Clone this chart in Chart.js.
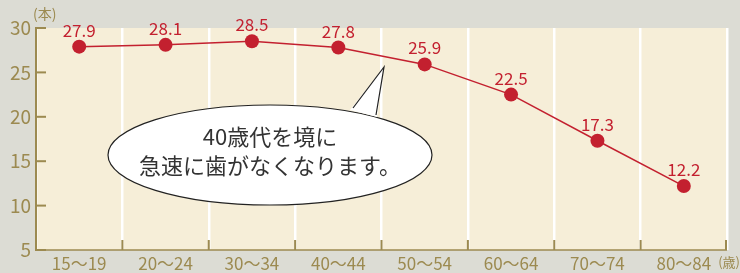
<!DOCTYPE html>
<html>
<head>
<meta charset="utf-8">
<script src="https://cdn.jsdelivr.net/npm/chart.js@4"></script>
<style>
	html, body { margin: 0; padding: 0; background: #dcdcd4; }
	#wrap { width: 740px; height: 273px; }
</style>
</head>
<body>
<div id="wrap"><canvas id="teeth" width="740" height="273"></canvas></div>
<script>
//age groups on the x axis
const ageGroups = ['15〜19', '20〜24', '30〜34', '40〜44', '50〜54', '60〜64', '70〜74', '80〜84'];
//average number of remaining teeth per group
const teethCount = [27.9, 28.1, 28.5, 27.8, 25.9, 22.5, 17.3, 12.2];
//y axis ticks
const yTicks = [5, 10, 15, 20, 25, 30];
//callout text
const calloutLines = ['40歳代を境に', '急速に歯がなくなります。'];

const GOLD = '#9c8a50';
const RED = '#c3202f';
const FONT = '"Noto Sans CJK JP", "Noto Sans", sans-serif';

//fills the plot area with the beige background
const plotBackground = {
	id: 'plotBackground',
	beforeDraw(chart) {
		const { ctx, chartArea } = chart;
		ctx.save();
		ctx.fillStyle = '#f6eed8';
		ctx.fillRect(chartArea.left, chartArea.top, chartArea.right - chartArea.left, chartArea.bottom - chartArea.top);
		ctx.restore();
	}
};

//short gold ticks inside the plot on both axes
const innerTicks = {
	id: 'innerTicks',
	afterDatasetsDraw(chart) {
		const { ctx, chartArea, scales } = chart;
		ctx.save();
		ctx.strokeStyle = GOLD;
		ctx.lineWidth = 2;
		yTicks.forEach(v => {
			const y = scales.y.getPixelForValue(v);
			ctx.beginPath();
			ctx.moveTo(chartArea.left, y);
			ctx.lineTo(chartArea.left + 10, y);
			ctx.stroke();
		});
		//x ticks sit on the category boundaries
		for (let i = 1; i <= ageGroups.length; i++) {
			const x = (scales.x.getPixelForValue(i - 1) + scales.x.getPixelForValue(i)) / 2;
			const xx = i === ageGroups.length ? chartArea.right - 1 : x;
			ctx.beginPath();
			ctx.moveTo(xx, chartArea.bottom);
			ctx.lineTo(xx, chartArea.bottom - 10);
			ctx.stroke();
		}
		ctx.lineWidth = 1.5;
		ctx.beginPath();
		ctx.moveTo(chartArea.left, chartArea.bottom);
		ctx.lineTo(chartArea.right, chartArea.bottom);
		ctx.stroke();

		//unit labels
		ctx.fillStyle = GOLD;
		ctx.font = '14px ' + FONT;
		ctx.textBaseline = 'middle';
		ctx.textAlign = 'left';
		ctx.fillText('(本)', chartArea.left - 3, 14);
		ctx.textAlign = 'right';
		ctx.font = '13px ' + FONT;
		ctx.fillText('(歳)', 740, chartArea.bottom + 12);
		ctx.restore();
	}
};

//speech bubble callout plus value labels
const callout = {
	id: 'callout',
	afterDraw(chart) {
		const { ctx } = chart;
		const cx = 270, cy = 155, rx = 162, ry = 50;
		ctx.save();
		ctx.fillStyle = '#ffffff';
		ctx.strokeStyle = '#222';
		ctx.lineWidth = 1.2;
		ctx.beginPath();
		ctx.ellipse(cx, cy, rx, ry, 0, 0, Math.PI * 2);
		ctx.fill();
		ctx.stroke();
		//tail
		ctx.beginPath();
		ctx.moveTo(350, 110);
		ctx.lineTo(384, 67);
		ctx.lineTo(377, 117);
		ctx.closePath();
		ctx.fill();
		ctx.beginPath();
		ctx.moveTo(353, 108);
		ctx.lineTo(384, 67);
		ctx.lineTo(376, 115);
		ctx.stroke();
		ctx.fillStyle = '#333';
		ctx.font = '22px ' + FONT;
		ctx.textAlign = 'center';
		ctx.textBaseline = 'middle';
		ctx.fillText(calloutLines[0], cx, 137);
		ctx.fillText(calloutLines[1], cx, 166);

		//value labels above each point
		const meta = chart.getDatasetMeta(0);
		ctx.fillStyle = RED;
		ctx.font = '17px ' + FONT;
		ctx.textBaseline = 'alphabetic';
		meta.data.forEach((pt, i) => {
			ctx.fillText(teethCount[i].toFixed(1), pt.x, pt.y - 10);
		});
		ctx.restore();
	}
};

new Chart(document.getElementById('teeth').getContext('2d'), {
	type: 'line',
	data: {
		labels: ageGroups,
		datasets: [{
			data: teethCount,
			borderColor: RED,
			borderWidth: 1.5,
			backgroundColor: RED,
			pointRadius: 7,
			pointHoverRadius: 7,
			pointBorderWidth: 0,
			tension: 0
		}]
	},
	options: {
		responsive: false,
		animation: false,
		layout: { padding: { top: 28, right: 13, left: 0, bottom: 0 } },
		plugins: { legend: { display: false }, tooltip: { enabled: false } },
		scales: {
			x: {
				offset: true,
				grid: { offset: true, color: '#ffffff', lineWidth: 2.5, drawTicks: false },
				border: { display: false },
				ticks: { color: GOLD, font: { family: FONT, size: 17 }, padding: 3, maxRotation: 0 },
				afterFit(scale) { scale.height = 23; }
			},
			y: {
				min: 5,
				max: 30,
				afterBuildTicks(scale) { scale.ticks = yTicks.map(v => ({ value: v })); },
				grid: { display: false, drawTicks: false },
				border: { color: GOLD, width: 2 },
				ticks: { color: GOLD, font: { family: FONT, size: 19 }, padding: 5 },
				afterFit(scale) { scale.width = 36; }
			}
		}
	},
	plugins: [plotBackground, innerTicks, callout]
});
</script>
</body>
</html>
